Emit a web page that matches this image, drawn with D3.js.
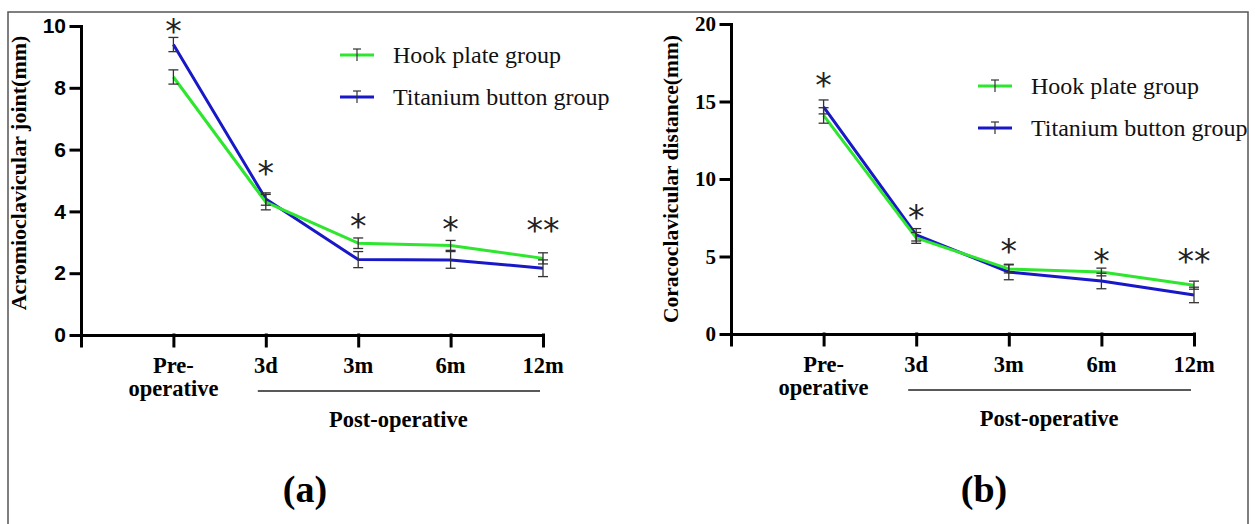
<!DOCTYPE html>
<html>
<head>
<meta charset="utf-8">
<script src="https://cdn.jsdelivr.net/npm/d3@7"></script>
<style>
  body { margin: 0; background: #fff; }
  svg { display: block; }
  .axis .domain, .axis .tick line { stroke: #000; stroke-width: 3px; stroke-linecap: square; }
</style>
</head>
<body>
<svg id="chart" width="1255" height="524"></svg>
<script>
const SERIF = "'Liberation Serif', 'Times New Roman', 'DejaVu Serif', serif";
const SANS = "'Liberation Sans', Arial, sans-serif";

// time points (x ticks)
const tickLines = [["Pre-", "operative"], ["3d"], ["3m"], ["6m"], ["12m"]];
const seriesNames = ["Hook plate group", "Titanium button group"];
const seriesColors = ["#2ee62e", "#1818c8"];

// (a) acromioclavicular joint, mm
const hookAC = [8.35, 4.3, 2.97, 2.9, 2.48];
const hookACsd = [0.23, 0.25, 0.17, 0.16, 0.18];
const titanAC = [9.4, 4.4, 2.44, 2.43, 2.16];
const titanACsd = [0.23, 0.2, 0.26, 0.27, 0.27];
const starsAC = ["*", "*", "*", "*", "**"];
const starYAC = [10.1, 5.5, 3.8, 3.7, 3.65];
const yTicksAC = [0, 2, 4, 6, 8, 10];

// (b) coracoclavicular distance, mm
const hookCC = [14.1, 6.2, 4.2, 4.0, 3.15];
const hookCCsd = [0.5, 0.35, 0.26, 0.25, 0.26];
const titanCC = [14.65, 6.4, 4.0, 3.42, 2.52];
const titanCCsd = [0.45, 0.4, 0.5, 0.5, 0.5];
const starsCC = ["*", "*", "*", "*", "**"];
const starYCC = [16.6, 8.05, 5.85, 5.2, 5.2];
const yTicksCC = [0, 5, 10, 15, 20];

const svg = d3.select("#chart");

// outer frame
svg.append("rect")
    .attr("x", 8).attr("y", 12)
    .attr("width", 1240).attr("height", 530)
    .attr("fill", "none")
    .attr("stroke", "#555")
    .attr("stroke-width", 1.5);

function drawPanel(o) {
    const g = svg.append("g");

    const x = d3.scaleLinear().domain([-1, 4]).range([o.left, o.right]);
    const y = d3.scaleLinear().domain([0, o.yMax]).range([o.bottom, o.top]);

    // y axis
    const yAxis = g.append("g")
        .attr("class", "axis")
        .attr("transform", `translate(${o.left},0)`)
        .call(d3.axisLeft(y).tickValues(o.yTicks).tickSize(10).tickSizeOuter(0).tickPadding(5));
    yAxis.selectAll(".tick text")
        .style("font-family", o.yTickFont)
        .attr("font-weight", "bold")
        .attr("font-size", 21)
        .attr("fill", "#000");

    // x axis, ticks at every time point plus the axis start
    g.append("g")
        .attr("class", "axis")
        .attr("transform", `translate(0,${o.bottom})`)
        .call(d3.axisBottom(x).tickValues([-1, 0, 1, 2, 3, 4]).tickSize(11).tickSizeOuter(0).tickFormat(""));

    const lab = g.append("g")
        .style("font-family", SERIF)
        .attr("font-weight", "bold").attr("font-size", 22.5).attr("text-anchor", "middle");
    tickLines.forEach((lines, i) => {
        const t = lab.append("text").attr("x", x(i)).attr("y", o.bottom + 38);
        lines.forEach((s, k) => {
            t.append("tspan").attr("x", x(i)).attr("dy", k === 0 ? 0 : 23).text(s);
        });
    });

    // post-operative bracket
    g.append("line")
        .attr("x1", x(1) - 8).attr("x2", x(4) - 3)
        .attr("y1", o.bottom + 56).attr("y2", o.bottom + 56)
        .attr("stroke", "#222").attr("stroke-width", 1.5);
    g.append("text")
        .style("font-family", SERIF)
        .attr("x", (x(1) + x(4)) / 2 - 6).attr("y", o.bottom + 92)
        .attr("text-anchor", "middle").attr("font-weight", "bold").attr("font-size", 22.5)
        .text("Post-operative");

    // y axis title
    g.append("text")
        .style("font-family", SERIF)
        .attr("transform", `translate(${o.titleX},${o.titleY}) rotate(-90)`)
        .attr("text-anchor", "middle").attr("font-weight", "bold").attr("font-size", o.titleSize)
        .text(o.title);

    // lines (blue under green)
    const line = d3.line().x((d, i) => x(i)).y(d => y(d));
    [1, 0].forEach(s => {
        g.append("path")
            .datum(o.series[s])
            .attr("d", line)
            .attr("fill", "none")
            .attr("stroke", seriesColors[s])
            .attr("stroke-width", 3)
            .attr("stroke-linejoin", "round");
    });

    // error bars
    const eb = g.append("g").attr("stroke", "#333").attr("stroke-width", 1.3);
    [0, 1].forEach(s => {
        o.series[s].forEach((v, i) => {
            const sd = o.sds[s][i];
            const cx = x(i);
            eb.append("line").attr("x1", cx).attr("x2", cx).attr("y1", y(v - sd)).attr("y2", y(v + sd));
            [v - sd, v + sd].forEach(e => {
                eb.append("line").attr("x1", cx - 5).attr("x2", cx + 5).attr("y1", y(e)).attr("y2", y(e));
            });
        });
    });

    // significance stars
    g.append("g").selectAll("text")
        .data(o.stars)
        .join("text")
        .attr("x", (d, i) => x(i))
        .attr("y", (d, i) => y(o.starY[i]) + 20)
        .attr("text-anchor", "middle")
        .style("font-family", "'DejaVu Sans', sans-serif")
        .attr("font-size", 33)
        .attr("fill", "#222")
        .text(d => d);

    // legend
    const lg = g.append("g");
    seriesNames.forEach((name, s) => {
        const ly = o.legY + s * 42;
        lg.append("line")
            .attr("x1", o.legX).attr("x2", o.legX + 34)
            .attr("y1", ly).attr("y2", ly)
            .attr("stroke", seriesColors[s]).attr("stroke-width", 3);
        lg.append("line")
            .attr("x1", o.legX + 17).attr("x2", o.legX + 17)
            .attr("y1", ly - 6).attr("y2", ly + 6)
            .attr("stroke", "#333").attr("stroke-width", 1.2);
        lg.append("line")
            .attr("x1", o.legX + 13).attr("x2", o.legX + 21)
            .attr("y1", ly - 6).attr("y2", ly - 6)
            .attr("stroke", "#333").attr("stroke-width", 1.2);
        lg.append("text")
            .style("font-family", SERIF)
            .attr("x", o.legX + 53).attr("y", ly + 8)
            .attr("font-size", 24).attr("fill", "#111")
            .text(name);
    });

    // panel letter
    g.append("text")
        .style("font-family", SERIF)
        .attr("x", o.letterX).attr("y", 502)
        .attr("text-anchor", "middle").attr("font-weight", "bold").attr("font-size", 38)
        .text(o.letter);
}

drawPanel({
    left: 81, right: 543, top: 26, bottom: 335, yMax: 10,
    yTicks: yTicksAC, yTickFont: SANS,
    series: [hookAC, titanAC], sds: [hookACsd, titanACsd],
    stars: starsAC, starY: starYAC,
    title: "Acromioclavicular joint(mm)", titleX: 26, titleY: 173, titleSize: 22,
    legX: 340, legY: 55, letter: "(a)", letterX: 305
});

drawPanel({
    left: 731, right: 1194, top: 24, bottom: 334, yMax: 20,
    yTicks: yTicksCC, yTickFont: SERIF,
    series: [hookCC, titanCC], sds: [hookCCsd, titanCCsd],
    stars: starsCC, starY: starYCC,
    title: "Coracoclavicular distance(mm)", titleX: 678, titleY: 179, titleSize: 21.5,
    legX: 978, legY: 86, letter: "(b)", letterX: 984
});
</script>
</body>
</html>
